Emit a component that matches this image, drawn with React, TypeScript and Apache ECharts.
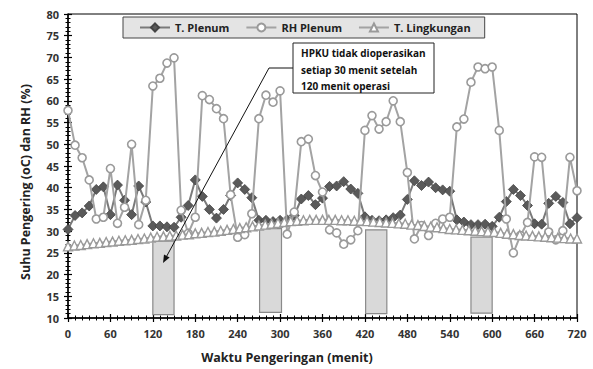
import React, { useEffect, useRef } from "react";
import * as echarts from "echarts";

// Time (minutes) for T. Plenum and RH Plenum readings (every 10 min)
const plenumTimes: number[] = [
  0, 10, 20, 30, 40, 50, 60, 70, 80, 90, 100, 110, 120, 130, 140, 150, 160, 170, 180, 190,
  200, 210, 220, 230, 240, 250, 260, 270, 280, 290, 300, 310, 320, 330, 340, 350, 360, 370,
  380, 390, 400, 410, 420, 430, 440, 450, 460, 470, 480, 490, 500, 510, 520, 530, 540, 550,
  560, 570, 580, 590, 600, 610, 620, 630, 640, 650, 660, 670, 680, 690, 700, 710, 720,
];

const tPlenum: number[] = [
  30.4, 33.6, 34.2, 35.8, 39.6, 40.2, 33.8, 40.6, 37.1, 33.8, 40.4, 36.7, 31.2, 31.2, 31.0,
  30.9, 33.2, 35.9, 41.8, 38.0, 35.0, 33.0, 35.0, 38.2, 41.1, 39.6, 37.7, 32.5, 32.5, 32.2,
  32.5, 32.6, 33.6, 37.4, 38.2, 36.1, 37.6, 40.3, 40.4, 41.4, 39.7, 38.7, 33.3, 32.5, 32.4,
  32.6, 33.1, 33.7, 37.3, 41.6, 40.5, 41.3, 40.0, 39.5, 39.2, 32.6, 32.1, 31.5, 31.5, 31.6,
  31.1, 33.2, 36.8, 39.6, 38.2, 35.9, 31.7, 31.6, 36.4, 38.0, 36.6, 31.7, 33.1,
];

const rhPlenum: number[] = [
  57.8, 49.8, 46.9, 41.8, 32.8, 33.2, 44.4, 31.8, 35.5, 50.0, 31.5, 37.1, 63.4, 65.2, 68.7,
  69.9, 34.8, 29.5, 33.2, 61.2, 60.3, 58.2, 55.9, 38.4, 28.6, 29.2, 34.0, 55.9, 61.3, 59.7,
  62.3, 29.3, 34.4, 50.6, 51.2, 42.8, 39.0, 30.3, 29.6, 27.0, 28.0, 30.1, 53.2, 56.6, 53.5,
  55.2, 60.0, 55.2, 43.5, 28.2, 31.3, 29.0, 31.8, 32.8, 33.2, 54.0, 55.8, 64.3, 67.8, 67.4,
  67.8, 53.2, 32.8, 25.0, 29.0, 32.0, 47.1, 47.0, 29.8, 28.0, 30.1, 47.0, 39.3,
];

// Ambient temperature readings (every 9 min)
const lingTimes: number[] = [
  0, 9, 18, 27, 36, 45, 54, 63, 72, 81, 90, 99, 108, 117, 126, 135, 144, 153, 162, 171, 180,
  189, 198, 207, 216, 225, 234, 243, 252, 261, 270, 279, 288, 297, 306, 315, 324, 333, 342,
  351, 360, 369, 378, 387, 396, 405, 414, 423, 432, 441, 450, 459, 468, 477, 486, 495, 504,
  513, 522, 531, 540, 549, 558, 567, 576, 585, 594, 603, 612, 621, 630, 639, 648, 657, 666,
  675, 684, 693, 702, 711, 720,
];

const tLingkungan: number[] = [
  26.5, 26.7, 26.8, 27.0, 27.2, 27.3, 27.5, 27.6, 27.8, 27.9, 28.0, 28.2, 28.3, 28.5, 28.7,
  28.8, 28.9, 29.0, 29.2, 29.3, 29.5, 29.6, 29.8, 29.9, 30.1, 30.3, 30.5, 30.7, 30.9, 31.1,
  31.3, 31.5, 31.7, 31.9, 32.1, 32.3, 32.4, 32.5, 32.6, 32.6, 32.6, 32.6, 32.6, 32.5, 32.5,
  32.4, 32.4, 32.3, 32.2, 32.1, 32.0, 31.9, 31.8, 31.7, 31.5, 31.4, 31.2, 31.0, 30.9, 30.7,
  30.5, 30.4, 30.3, 30.2, 30.1, 30.0, 29.9, 29.8, 29.6, 29.4, 29.3, 29.1, 29.0, 28.9, 28.8,
  28.7, 28.6, 28.5, 28.4, 28.3, 28.3,
];

// HPKU off periods: [start, end, bottom, top]
const offPeriods: number[][] = [
  [120, 150, 10.8, 27.7],
  [271, 302, 11.3, 30.6],
  [421, 451, 11.0, 30.3],
  [570, 600, 11.1, 28.6],
];

const seriesNames = ["T. Plenum", "RH Plenum", "T. Lingkungan"];
const annotationLines = [
  "HPKU tidak dioperasikan",
  "setiap 30 menit setelah",
  "120 menit operasi",
];

const FONT = "'Open Sans', 'DejaVu Sans', sans-serif";

export default function App() {
  const ref = useRef<HTMLDivElement>(null);

  useEffect(() => {
    document.body.style.margin = "0";
    if (!ref.current) return;
    const chart = echarts.init(ref.current, null, { renderer: "svg" });

    const pair = (t: number[], v: number[]) => t.map((x, i) => [x, v[i]]);

    const labelStyle = {
      fontFamily: FONT,
      fontWeight: "bold" as const,
      fontSize: 11,
      color: "#333",
    };

    const tip = [163, 263];
    const from = [269, 68];
    const dx = tip[0] - from[0];
    const dy = tip[1] - from[1];
    const len = Math.sqrt(dx * dx + dy * dy);
    const ux = dx / len;
    const uy = dy / len;
    const hl = 8;
    const hw = 3.2;
    const bx = tip[0] - ux * hl;
    const by = tip[1] - uy * hl;

    chart.setOption({
      animation: false,
      backgroundColor: "#fff",
      grid: {
        left: 68,
        right: 16,
        top: 14,
        bottom: 51,
        show: true,
        borderColor: "#000",
        borderWidth: 1,
        backgroundColor: "transparent",
      },
      legend: {
        data: seriesNames,
        left: 123,
        top: 17,
        itemWidth: 30,
        itemHeight: 10,
        itemGap: 16,
        backgroundColor: "#e4e4e4",
        borderColor: "#444",
        borderWidth: 1,
        padding: [5, 14, 5, 16],
        textStyle: { ...labelStyle, color: "#222" },
      },
      xAxis: [
        {
          type: "value",
          min: 0,
          max: 720,
          interval: 60,
          position: "bottom",
          axisLine: { show: true, lineStyle: { color: "#000", width: 1.5 } },
          axisTick: { show: true, length: 4, lineStyle: { color: "#000", width: 1.2 } },
          minorTick: { show: true, splitNumber: 6, length: 2.5, lineStyle: { color: "#000" } },
          splitLine: { show: false },
          axisLabel: { ...labelStyle, margin: 10 },
        },
        {
          type: "value",
          min: 0,
          max: 720,
          interval: 60,
          position: "bottom",
          axisLine: { show: false },
          axisTick: { show: true, inside: true, length: 4, lineStyle: { color: "#000", width: 1.2 } },
          minorTick: { show: true, splitNumber: 6, length: 2.5, lineStyle: { color: "#000" } },
          splitLine: { show: false },
          axisLabel: { show: false },
        },
      ],
      yAxis: [
        {
          type: "value",
          min: 10,
          max: 80,
          interval: 5,
          position: "left",
          axisLine: { show: true, lineStyle: { color: "#000", width: 1.5 } },
          axisTick: { show: true, length: 4, lineStyle: { color: "#000", width: 1.2 } },
          minorTick: { show: true, splitNumber: 5, length: 2.5, lineStyle: { color: "#000" } },
          splitLine: { show: false },
          axisLabel: { ...labelStyle, margin: 9 },
        },
        {
          type: "value",
          min: 10,
          max: 80,
          interval: 5,
          position: "left",
          axisLine: { show: false },
          axisTick: { show: true, inside: true, length: 4, lineStyle: { color: "#000", width: 1.2 } },
          minorTick: { show: true, splitNumber: 5, length: 2.5, lineStyle: { color: "#000" } },
          splitLine: { show: false },
          axisLabel: { show: false },
        },
      ],
      series: [
        {
          name: seriesNames[0],
          type: "line",
          data: pair(plenumTimes, tPlenum),
          symbol: "diamond",
          symbolSize: 10,
          lineStyle: { color: "#7a7a7a", width: 2 },
          itemStyle: { color: "#5a5a5a", borderColor: "#444", borderWidth: 0.8 },
          z: 3,
          markArea: {
            silent: true,
            itemStyle: { color: "#d9d9d9", borderColor: "#8a8a8a", borderWidth: 1.2 },
            data: offPeriods.map((p) => [
              { xAxis: p[0], yAxis: p[2] },
              { xAxis: p[1], yAxis: p[3] },
            ]),
          },
        },
        {
          name: seriesNames[1],
          type: "line",
          data: pair(plenumTimes, rhPlenum),
          symbol: "circle",
          symbolSize: 8,
          lineStyle: { color: "#a3a3a3", width: 2 },
          itemStyle: { color: "#fff", borderColor: "#9a9a9a", borderWidth: 1.6 },
          z: 4,
        },
        {
          name: seriesNames[2],
          type: "line",
          data: pair(lingTimes, tLingkungan),
          symbol: "triangle",
          symbolSize: 9,
          lineStyle: { color: "#a3a3a3", width: 2 },
          itemStyle: { color: "#fff", borderColor: "#9a9a9a", borderWidth: 1.4 },
          z: 5,
        },
      ],
      graphic: [
        {
          type: "text",
          x: 287,
          y: 357,
          style: {
            text: "Waktu Pengeringan (menit)",
            font: `bold 12.5px ${FONT}`,
            fill: "#222",
            align: "center",
            verticalAlign: "middle",
          },
        },
        {
          type: "text",
          x: 25,
          y: 182,
          rotation: Math.PI / 2,
          style: {
            text: "Suhu Pengering (oC) dan RH (%)",
            font: `bold 12.5px ${FONT}`,
            fill: "#222",
            align: "center",
            verticalAlign: "middle",
          },
        },
        {
          type: "polyline",
          shape: { points: [[293, 68], from, [bx, by]] },
          style: { stroke: "#111", lineWidth: 1, fill: "none" },
          z: 20,
        },
        {
          type: "polygon",
          shape: {
            points: [
              tip,
              [bx - uy * hw, by + ux * hw],
              [bx + uy * hw, by - ux * hw],
            ],
          },
          style: { fill: "#111" },
          z: 20,
        },
        {
          type: "rect",
          shape: { x: 293, y: 43, width: 141, height: 50 },
          style: { fill: "#fff", stroke: "#222", lineWidth: 1 },
          z: 20,
        },
        ...annotationLines.map((line, i) => ({
          type: "text",
          x: 301,
          y: 53 + i * 16.5,
          z: 21,
          style: {
            text: line,
            font: `bold 10px ${FONT}`,
            fill: "#111",
            align: "left",
            verticalAlign: "middle",
          },
        })),
      ],
    });

    return () => chart.dispose();
  }, []);

  return <div ref={ref} style={{ width: 593, height: 369 }} />;
}
